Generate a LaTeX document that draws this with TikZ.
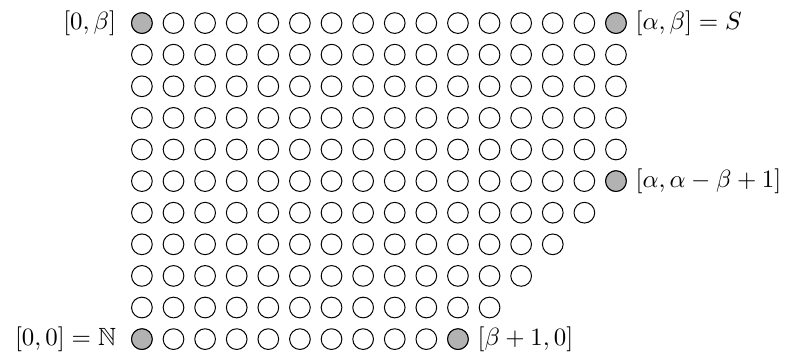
\documentclass[tikz,border=0pt]{standalone}
\usepackage{amssymb}
\tikzset{
  dot/.style={circle, draw, inner sep=0pt, minimum size=0.292cm},
  hit/.style={dot, fill=black!30},
}
\begin{document}
\begin{tikzpicture}[x=0.446cm,y=0.446cm]
\useasboundingbox (-4.49,-0.47) rectangle (20.57,10.73);
% full rows
\foreach \y in {5,...,10}
  \foreach \x in {0,...,15}
    \node[dot] (c-\x-\y) at (\x,\y) {};
% shorter rows at the bottom
\foreach \y/\m in {0/10,1/11,2/12,3/13,4/14}
  \foreach \x in {0,...,\m}
    \node[dot] (c-\x-\y) at (\x,\y) {};
% marked points
\node[hit, label={[label distance=2.5pt]left:$[0,\beta]$}] (top-left) at (0,10) {};
\node[hit, label={right:$[\alpha,\beta]=S$}] (top-right) at (15,10) {};
\node[hit, label={right:$[\alpha,\alpha-\beta+1]$}] (mid-right) at (15,5) {};
\node[hit, label={[label distance=2.5pt]left:$[0,0]=\mathbb{N}$}] (bot-left) at (0,0) {};
\node[hit, label={right:$[\beta+1,0]$}] (bot-right) at (10,0) {};
\end{tikzpicture}
\end{document}
